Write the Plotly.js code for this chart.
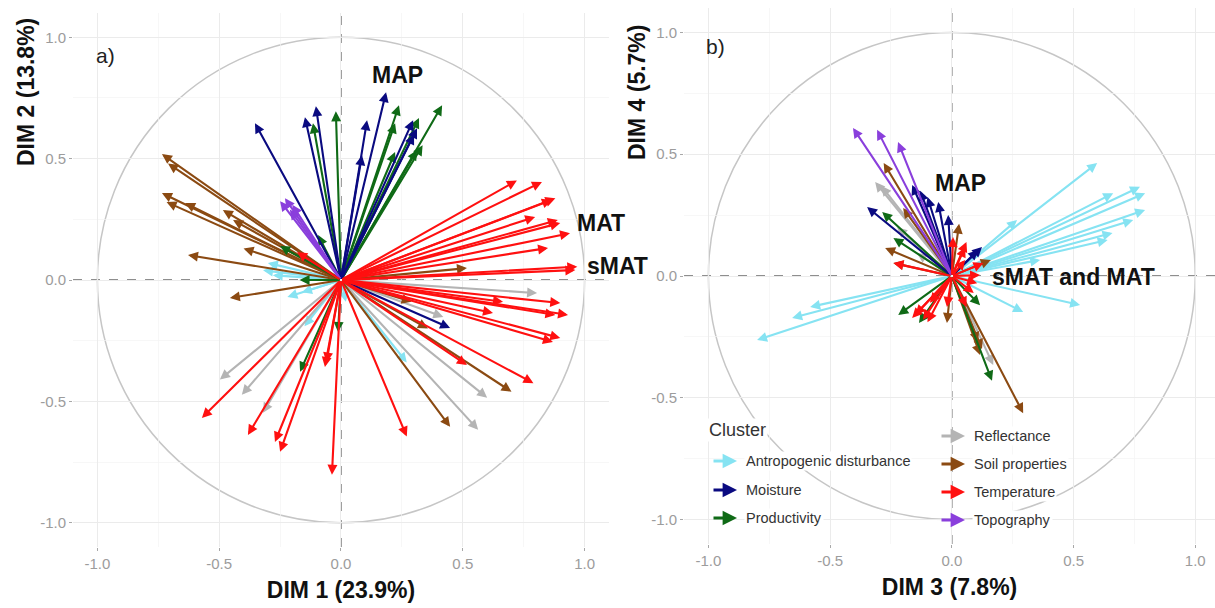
<!DOCTYPE html>
<html>
<head>
<meta charset="utf-8">
<script src="https://cdn.plot.ly/plotly-3.0.1.min.js"></script>
<style>
  html, body { margin: 0; padding: 0; background: #fff; }
  #chart { width: 1215px; height: 608px; }
</style>
</head>
<body>
<div id="chart"></div>
<script>
// ---- Variable loadings, panel a (DIM 1 vs DIM 2) ----
const a_anthro_x = [-0.32, -0.30, -0.28, -0.22, -0.16, -0.15, 0.02, 0.27];
const a_anthro_y = [0.04, 0.07, 0.02, -0.07, -0.05, -0.19, -0.09, -0.34];
const a_moist_x = [-0.353, -0.148, -0.103, 0.107, 0.086, 0.185, 0.296, 0.312, 0.30, 0.448];
const a_moist_y = [0.646, 0.671, 0.716, 0.658, 0.514, 0.774, 0.658, 0.625, 0.60, -0.198];
const a_prod_x = [-0.021, -0.115, 0.238, 0.222, 0.415, 0.32, 0.312, 0.222, 0.335, -0.094, -0.17, -0.25, -0.168, -0.012];
const a_prod_y = [0.695, 0.646, 0.72, 0.646, 0.72, 0.667, 0.535, 0.527, 0.555, 0.185, 0.0, 0.14, -0.378, -0.214];
const a_refl_x = [0.805, 0.6, 0.563, 0.42, -0.497, -0.407, -0.32];
const a_refl_y = [-0.054, -0.485, -0.617, -0.152, -0.41, -0.473, -0.547];
const a_soil_x = [-0.735, -0.71, -0.735, -0.716, -0.64, -0.485, -0.443, -0.628, -0.40, -0.456, 0.517, 0.70, 0.448, 0.29, 0.357];
const a_soil_y = [0.519, 0.48, 0.358, 0.321, 0.317, 0.288, 0.247, 0.103, 0.13, -0.074, 0.049, -0.46, -0.605, -0.09, -0.2];
const a_temp_x = [0.722, 0.825, 0.88, 0.866, 0.797, 0.89, 0.9, 0.94, 0.85, 0.97, 0.962,
                  0.9, 0.932, 0.88, 0.9, 0.87, 0.665, 0.624, 0.79, 0.517, 0.27,
                  -0.571, -0.382, -0.271, -0.25, -0.066, -0.037, -0.06, -0.18];
const a_temp_y = [0.41, 0.404, 0.337, 0.33, 0.26, 0.247, 0.235, 0.193, 0.132, 0.055, 0.041,
                  -0.095, -0.144, -0.144, -0.239, -0.255, -0.09, -0.136, -0.425, -0.35, -0.645,
                  -0.568, -0.638, -0.667, -0.708, -0.358, -0.802, -0.34, 0.115];
const a_topo_x = [-0.25, -0.23, -0.21, -0.2];
const a_topo_y = [0.325, 0.337, 0.29, 0.31];

// ---- Variable loadings, panel b (DIM 3 vs DIM 4) ----
const b_anthro_x = [0.597, 0.773, 0.794, 0.663, 0.794, 0.745, 0.66, 0.64, 0.363, 0.268, 0.527, 0.293, -0.8, -0.656, -0.582];
const b_anthro_y = [0.464, 0.366, 0.34, 0.34, 0.271, 0.23, 0.177, 0.148, 0.066, 0.23, -0.119, -0.148, -0.263, -0.172, -0.127];
const b_moist_x = [-0.348, -0.163, -0.056, -0.015, 0.124, 0.108, -0.1, -0.13];
const b_moist_y = [0.283, 0.374, 0.304, 0.25, 0.119, 0.107, 0.324, 0.35];
const b_prod_x = [-0.286, -0.22, -0.135, 0.116, 0.165, -0.24];
const b_prod_y = [0.263, -0.16, -0.193, -0.12, -0.43, 0.156];
const b_refl_x = [-0.315, -0.29, -0.225, -0.143, 0.17];
const b_refl_y = [0.386, 0.37, 0.2, 0.094, -0.365];
const b_soil_x = [-0.28, -0.2, -0.274, -0.24, 0.03, 0.293, 0.108, 0.116, -0.02, 0.124, 0.16];
const b_soil_y = [0.464, 0.279, 0.115, 0.053, 0.215, -0.563, -0.271, -0.324, -0.193, -0.3, 0.066];
const b_temp_x = [0.055, 0.13, 0.104, 0.09, -0.24, -0.163, -0.1, -0.02, 0.06, -0.09, 0.055, 0.116, 0.005, 0.06, -0.118, -0.15];
const b_temp_y = [0.119, 0.053, -0.03, -0.07, 0.053, -0.172, -0.19, -0.127, -0.127, -0.11, 0.066, 0.004, 0.16, 0.14, -0.18, -0.16];
const b_topo_x = [-0.406, -0.307, -0.221];
const b_topo_y = [0.608, 0.6, 0.55];

// ---- Axis ticks and titles ----
const tickValues = [-1, -0.5, 0, 0.5, 1];
const tickLabels = ['-1.0', '-0.5', '0.0', '0.5', '1.0'];
const dimTitles = ['DIM 1 (23.9%)', 'DIM 2 (13.8%)', 'DIM 3 (7.8%)', 'DIM 4 (5.7%)'];
const clusterNames = ['Antropogenic disturbance', 'Moisture', 'Productivity',
                      'Reflectance', 'Soil properties', 'Temperature', 'Topography'];

// ---- Styling ----
const FONT = 'Liberation Sans, Arial, sans-serif';
const clusterColors = {
  'Antropogenic disturbance': '#86e3f2',
  'Moisture': '#0a0a80',
  'Productivity': '#0f6a16',
  'Reflectance': '#b4b4b4',
  'Soil properties': '#8b4a12',
  'Temperature': '#ff1010',
  'Topography': '#8a3fdc'
};

const panelA = {
  'Antropogenic disturbance': [a_anthro_x, a_anthro_y],
  'Reflectance': [a_refl_x, a_refl_y],
  'Soil properties': [a_soil_x, a_soil_y],
  'Productivity': [a_prod_x, a_prod_y],
  'Moisture': [a_moist_x, a_moist_y],
  'Topography': [a_topo_x, a_topo_y],
  'Temperature': [a_temp_x, a_temp_y]
};
const panelB = {
  'Antropogenic disturbance': [b_anthro_x, b_anthro_y],
  'Reflectance': [b_refl_x, b_refl_y],
  'Soil properties': [b_soil_x, b_soil_y],
  'Productivity': [b_prod_x, b_prod_y],
  'Moisture': [b_moist_x, b_moist_y],
  'Topography': [b_topo_x, b_topo_y],
  'Temperature': [b_temp_x, b_temp_y]
};

// Arrows from the origin to each loading, drawn through the subplot's axes
function loadingArrows(panel, xr, yr) {
  const out = [];
  Object.keys(panel).forEach(name => {
    const [xs, ys] = panel[name];
    xs.forEach((xv, i) => {
      out.push({
        x: xv, y: ys[i], xref: xr, yref: yr,
        ax: 0, ay: 0, axref: xr, ayref: yr,
        text: '', showarrow: true, arrowhead: 2, arrowsize: 0.95,
        arrowwidth: 2.1, arrowcolor: clusterColors[name], standoff: 0
      });
    });
  });
  return out;
}

function axisStyle(range, domain, extra) {
  return Object.assign({
    range: range, domain: domain, fixedrange: true,
    tickmode: 'array', tickvals: tickValues, ticktext: tickLabels,
    showgrid: true, gridcolor: '#ebebeb', gridwidth: 1,
    minor: { dtick: 0.25, tick0: 0, showgrid: true, gridcolor: '#f4f4f4', gridwidth: 0.7, ticks: '' },
    zeroline: false, showline: false,
    ticks: 'outside', ticklen: 3, tickwidth: 1, tickcolor: '#a8a8a8',
    tickfont: { family: FONT, size: 15, color: '#9c9c9c' }
  }, extra || {});
}

const xTitle = (t) => ({ text: t, font: { family: FONT, size: 23, color: '#111' }, standoff: 10 });

const layout = {
  width: 1215, height: 608,
  margin: { l: 0, r: 0, t: 0, b: 0 },
  paper_bgcolor: '#fff', plot_bgcolor: '#fff',
  showlegend: false,
  xaxis: axisStyle([-1.1, 1.1], [0.0601, 0.5012], { title: xTitle('<b>' + dimTitles[0] + '</b>') }),
  yaxis: axisStyle([-1.1, 1.1], [0.1003, 0.9786]),
  xaxis2: axisStyle([-1.1, 1.081], [0.5630, 1.0], { anchor: 'y2', title: xTitle('<b>' + dimTitles[2] + '</b>') }),
  yaxis2: axisStyle([-1.1, 1.1], [0.1053, 0.9868], { anchor: 'x2' }),
  shapes: [],
  annotations: []
};

// Unit circle and dashed reference lines for both panels
[['x', 'y'], ['x2', 'y2']].forEach(([xr, yr]) => {
  layout.shapes.push({ type: 'circle', xref: xr, yref: yr, x0: -1, x1: 1, y0: -1, y1: 1,
    line: { color: '#c6c6c6', width: 1.5 }, layer: 'below' });
  layout.shapes.push({ type: 'line', xref: xr, yref: yr + ' domain', x0: 0, x1: 0, y0: 0, y1: 1,
    line: { color: '#6a6a6a', width: 1.3, dash: 'dash' }, layer: 'below' });
  layout.shapes.push({ type: 'line', xref: xr + ' domain', yref: yr, x0: 0, x1: 1, y0: 0, y1: 0,
    line: { color: '#6a6a6a', width: 1.3, dash: 'dash' }, layer: 'below' });
});

layout.annotations.push(...loadingArrows(panelA, 'x', 'y'));
layout.annotations.push(...loadingArrows(panelB, 'x2', 'y2'));

// Variable labels
const bold = (s) => '<b>' + s + '</b>';
const labelFont = { family: FONT, size: 23, color: '#111' };
[
  ['x', 'y', 0.23, 0.844, 'MAP'],
  ['x', 'y', 1.066, 0.235, 'MAT'],
  ['x2', 'y2', 0.034, 0.382, 'MAP'],
  ['x2', 'y2', 0.498, -0.004, 'sMAT and MAT']
].forEach(([xr, yr, xv, yv, t]) => {
  layout.annotations.push({ xref: xr, yref: yr, x: xv, y: yv, text: bold(t), showarrow: false,
    font: labelFont, xanchor: 'center', yanchor: 'middle' });
});
// sMAT sits just past the panel edge, so it is placed on the page
layout.annotations.push({ xref: 'paper', yref: 'paper', x: 585 / 1215, y: 1 - 266 / 608, text: bold('sMAT'),
  showarrow: false, font: labelFont, xanchor: 'left', yanchor: 'middle' });

// Y axis titles and panel letters
layout.annotations.push(
  { xref: 'paper', yref: 'paper', x: 26 / 1215, y: 1 - 92 / 608, text: bold(dimTitles[1]), textangle: -90,
    showarrow: false, font: { family: FONT, size: 23, color: '#111' }, xanchor: 'center', yanchor: 'middle' },
  { xref: 'paper', yref: 'paper', x: 637 / 1215, y: 1 - 93 / 608, text: bold(dimTitles[3]), textangle: -90,
    showarrow: false, font: { family: FONT, size: 23, color: '#111' }, xanchor: 'center', yanchor: 'middle' },
  { xref: 'paper', yref: 'paper', x: 94 / 1215, y: 1 - 55 / 608, text: 'a)', showarrow: false,
    font: { family: FONT, size: 21, color: '#222' }, xanchor: 'left', yanchor: 'middle' },
  { xref: 'paper', yref: 'paper', x: 704 / 1215, y: 1 - 47 / 608, text: 'b)', showarrow: false,
    font: { family: FONT, size: 21, color: '#222' }, xanchor: 'left', yanchor: 'middle' }
);

// Cluster legend: title, then two columns of arrow keys
layout.annotations.push({ xref: 'paper', yref: 'paper', x: 707 / 1215, y: 1 - 430 / 608, text: 'Cluster',
  showarrow: false, font: { family: FONT, size: 18, color: '#333' }, xanchor: 'left', yanchor: 'middle',
  bgcolor: '#fff' });
const legendSlots = [
  [712, 461], [712, 490], [712, 518],
  [940, 436], [940, 464], [940, 492], [940, 520]
];
clusterNames.forEach((name, i) => {
  const [px, py] = legendSlots[i];
  layout.annotations.push({ xref: 'paper', yref: 'paper', x: (px + 25) / 1215, y: 1 - py / 608,
    ax: -25, ay: 0, text: '', showarrow: true, arrowhead: 2, arrowsize: 0.9, arrowwidth: 3.2,
    arrowcolor: clusterColors[name], standoff: 0 });
  layout.annotations.push({ xref: 'paper', yref: 'paper', x: (px + 32) / 1215, y: 1 - py / 608,
    text: name, showarrow: false, font: { family: FONT, size: 14.5, color: '#333' },
    xanchor: 'left', yanchor: 'middle', bgcolor: '#fff', borderpad: 1 });
});

// Empty traces so both subplots are built
const data = [
  { type: 'scatter', mode: 'markers', x: [], y: [], xaxis: 'x', yaxis: 'y', hoverinfo: 'skip' },
  { type: 'scatter', mode: 'markers', x: [], y: [], xaxis: 'x2', yaxis: 'y2', hoverinfo: 'skip' }
];

Plotly.newPlot('chart', data, layout, { staticPlot: true, displayModeBar: false });
</script>
</body>
</html>
